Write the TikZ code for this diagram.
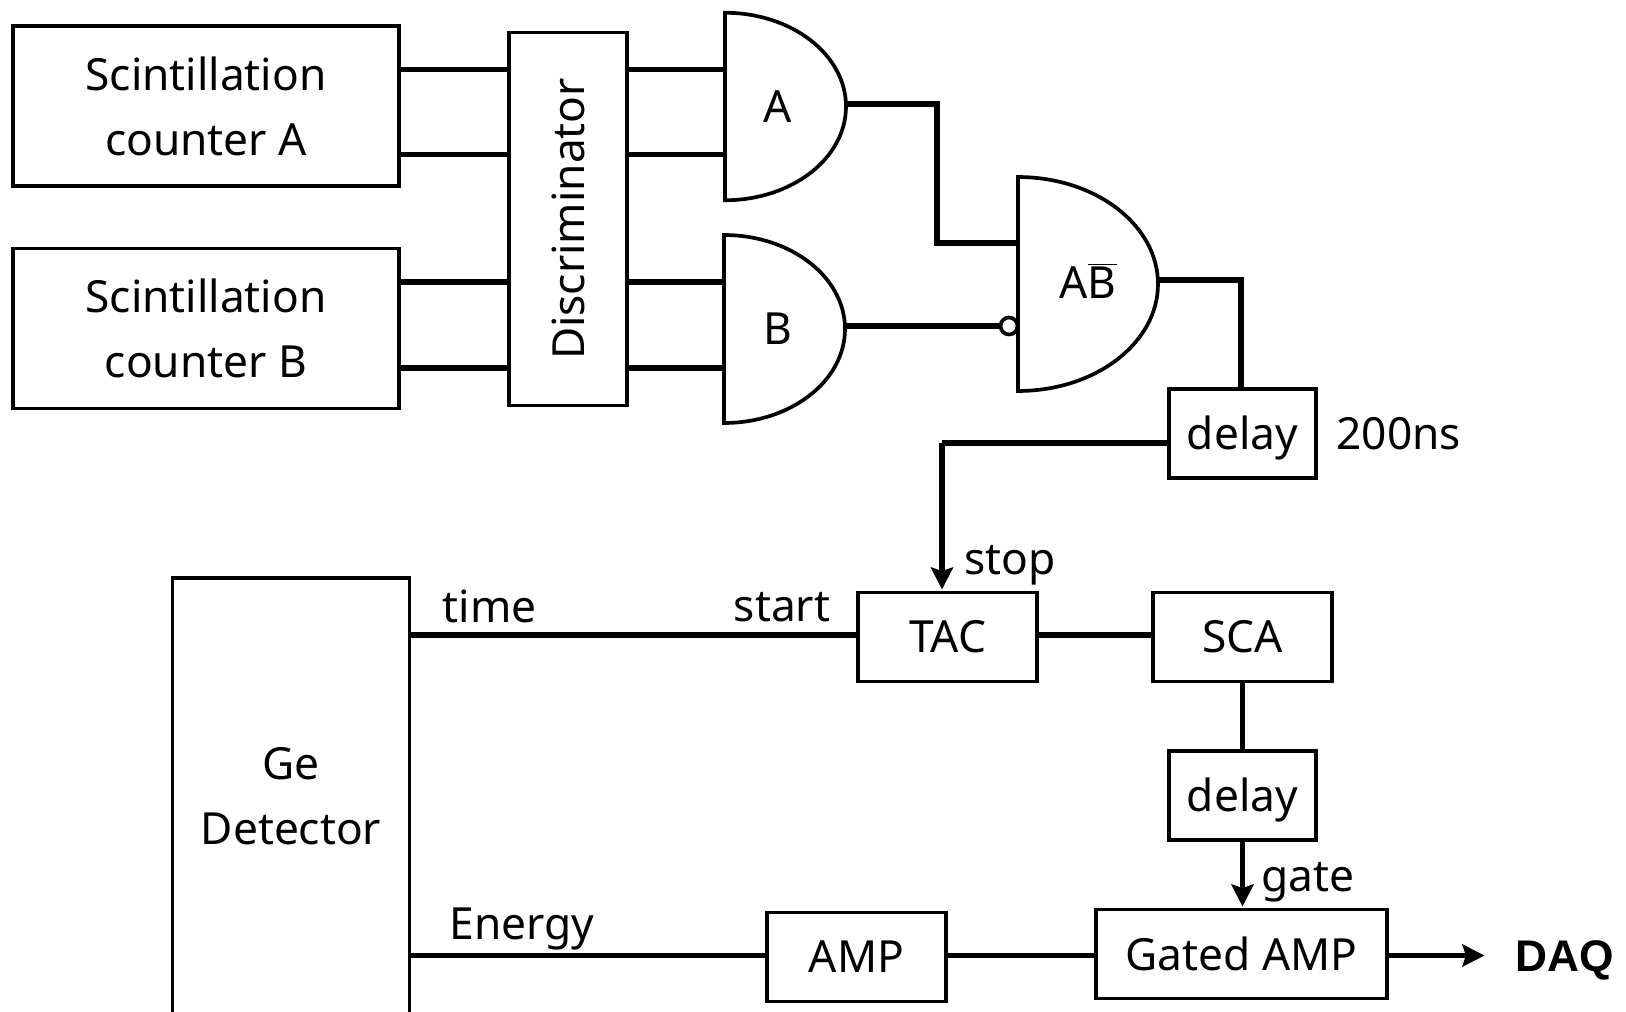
\documentclass[tikz,border=0pt]{standalone}
\usepackage{fontspec}
\setmainfont{Noto Sans}
\newfontfamily\daqfont{Liberation Sans}
\usetikzlibrary{arrows.meta,positioning,calc}
\tikzstyle{unit}=[draw, line width=2.1pt, outer sep=0pt, inner sep=0pt, align=center]
\tikzstyle{counter} = [unit, minimum width=7.71cm, minimum height=3.2cm]
\tikzstyle{module} = [unit, minimum width=3.58cm, minimum height=1.78cm]
\tikzstyle{delaybox} = [unit, minimum width=2.95cm, minimum height=1.78cm, text depth=0.05em]
\tikzstyle{gate} = [outer sep=0pt, inner sep=0pt]
\tikzstyle{gateline} = [draw, line width=2.1pt]
\tikzstyle{texto} = [inner sep=0pt]
\tikzstyle{line} = [draw, line width=3.1pt, color=black]
\tikzstyle{arrow} = [line, -{Stealth[length=0.44cm,width=0.44cm,inset=0.07cm]}]
\newcommand{\unit}[3]{node (#1)[#2]{#3}}
\newcommand{\texto}[2]{node (#1)[texto]{#2}}
\newcommand{\andgate}[4]{%
	\node (#1)[gate, minimum width=#3cm, minimum height=#4cm] at (#2){};
	\path[gateline] (#1.north west) arc [start angle=90, end angle=-90, x radius=#3cm, y radius=#4cm/2] -- cycle;}

\begin{document}
\begin{tikzpicture}[x=0.02cm,y=-0.02cm,font=\fontsize{25.2}{30}\selectfont]
		\useasboundingbox (0,0) rectangle (1626,1011);
		
		% Draw diagram elements
		\path (206,106) \unit{cntA}{counter}{Scintillation\\[0.28em]counter A};
		\path (cntA)+(0,222.5) \unit{cntB}{counter}{Scintillation\\[0.28em]counter B};
		\path (568,219) \unit{disc}{unit, minimum width=2.36cm, minimum height=7.46cm}{\rotatebox{90}{Discriminator}};
		
		\andgate{gA}{785.5,106.5}{2.42}{3.75}
		\andgate{gB}{784.5,329}{2.42}{3.76}
		\andgate{gC}{1088,284}{2.80}{4.28}
		\path (gA)+(-8,0) \texto{gAt}{A};
		\path (gB)+(-7,0) \texto{gBt}{B};
		\path (gC)+(0,-3) \texto{gCt}{A$\overline{\mbox{B}}$};
		\path (gC.west)+(-9,42) node (inv)[circle, draw, line width=2.1pt, fill=white, minimum size=0.34cm, inner sep=0pt, outer sep=0pt]{};
		
		\path (1242.5,433.5) \unit{dly1}{delaybox}{delay};
		\path (dly1.east)+(20,0) node (dlyt)[texto, anchor=west]{200ns};
		
		\path (291,796) \unit{det}{unit, minimum width=4.74cm, minimum height=8.72cm}{Ge\\[0.28em]Detector};
		\path (947.5,637) \unit{tac}{module}{TAC};
		\path (tac)+(295,0) \unit{sca}{module}{SCA};
		\path (sca)+(0,158.5) \unit{dly2}{delaybox}{delay};
		\path (1241.75,954) \unit{gamp}{unit, minimum width=5.82cm, minimum height=1.78cm}{Gated AMP};
		\path (856.5,957) \unit{amp}{module}{AMP};
		\path (1565,960) node (daq)[texto]{\daqfont\bfseries DAQ};
		
		\path (489.5,606) \texto{ltime}{time};
		\path (782,607) \texto{lstart}{start};
		\path (1010,565) \texto{lstop}{stop};
		\path (1308,882) \texto{lgate}{gate};
		\path (522,929) \texto{lenergy}{Energy};
		
		% Turning points of the wires
		\coordinate (inA1) at (0,69.5);
		\coordinate (inA2) at (0,154.5);
		\coordinate (inB1) at (0,282);
		\coordinate (inB2) at (0,368);
		\coordinate (jA1) at (937,104);
		\coordinate (jA2) at (937,243);
		\coordinate (jC) at (1241,280);
		\coordinate (jD) at (942,443);
		\coordinate (jT) at (0,635);
		\coordinate (jE) at (0,955.5);
		
		% Draw arrows between elements
		\path [line] (cntA.east |- inA1) -- (disc.west |- inA1);
		\path [line] (cntA.east |- inA2) -- (disc.west |- inA2);
		\path [line] (cntB.east |- inB1) -- (disc.west |- inB1);
		\path [line] (cntB.east |- inB2) -- (disc.west |- inB2);
		\path [line] (disc.east |- inA1) -- (gA.west |- inA1);
		\path [line] (disc.east |- inA2) -- (gA.west |- inA2);
		\path [line] (disc.east |- inB1) -- (gB.west |- inB1);
		\path [line] (disc.east |- inB2) -- (gB.west |- inB2);
		\path [line] (gA.east |- jA1) -- (jA1) -- (jA2) -- (gC.west |- jA2);
		\path [line] (gB.east |- inv) -- (inv.west);
		\path [line] (gC.east |- jC) -- (jC) -- (jC |- dly1.north);
		\path [line] (dly1.west |- jD) -- (jD);
		\path [arrow] (jD) -- ([yshift=0.06cm]jD |- tac.north);
		\path [line] (det.east |- jT) -- (tac.west |- jT);
		\path [line] (tac.east |- jT) -- (sca.west |- jT);
		\path [line] (sca.south) -- (dly2.north);
		\path [arrow] (dly2.south) -- ([yshift=0.06cm]gamp.north -| dly2.south);
		\path [line] (det.east |- jE) -- (amp.west |- jE);
		\path [line] (amp.east |- jE) -- (gamp.west |- jE);
		\path [arrow] (gamp.east |- jE) -- ([xshift=-0.62cm]daq.west |- jE);
		
		\end{tikzpicture}
\end{document}
